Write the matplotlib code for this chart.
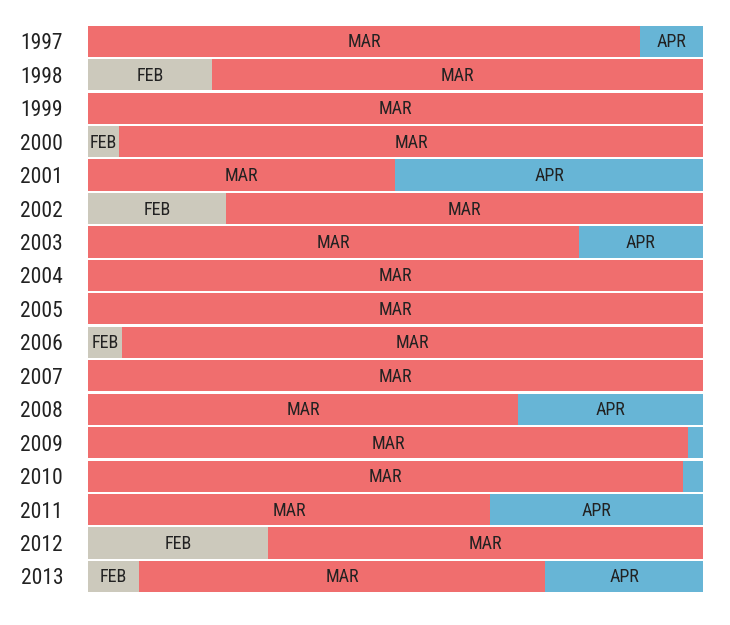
import matplotlib.pyplot as plt
import numpy as np
from matplotlib import font_manager

# === Data (share of each month, %) ===
years = [str(y) for y in range(1997, 2014)]
feb = [0, 20.2, 0, 5.0, 0, 22.4, 0, 0, 0, 5.5, 0, 0, 0, 0, 0, 29.3, 8.3]
mar = [89.8, 79.8, 100, 95.0, 49.9, 77.6, 79.8, 100, 100, 94.5, 100, 69.9, 97.6, 96.7, 65.4, 70.7, 66.0]
apr = [10.2, 0, 0, 0, 50.1, 0, 20.2, 0, 0, 0, 0, 30.1, 2.4, 3.3, 34.6, 0, 25.7]

names = ["FEB", "MAR", "APR"]
colors = ["#ccc9bc", "#f06e6e", "#67b5d6"]

# font: try a narrow one
fam = "DejaVu Sans"
for f in ["Liberation Sans Narrow", "Roboto Condensed", "Liberation Sans"]:
    try:
        font_manager.findfont(f, fallback_to_default=False)
        fam = f
        break
    except Exception:
        pass
plt.rcParams['font.family'] = fam

fig = plt.figure(figsize=(7.3, 6.25), dpi=100)
ax = fig.add_axes([88/730, 1-592/625, 615/730, (592-25.7)/625])

y = np.arange(len(years))
h = 0.93
left = np.zeros(len(years))
for vals, name, c in zip([feb, mar, apr], names, colors):
    vals = np.array(vals)
    ax.barh(y, vals, left=left, height=h, color=c, edgecolor="none")
    for i, v in enumerate(vals):
        if v >= 5:
            ax.text(left[i] + v/2, y[i] + 0.03, name, ha="center", va="center",
                    fontsize=13, color="#222222")
    left += vals

ax.set_xlim(0, 100)
ax.set_ylim(len(years) - 1 + h/2, -h/2)
ax.set_yticks(y)
ax.set_yticklabels(years, fontsize=15.5, color="#222222")
ax.tick_params(axis="y", length=0, pad=18)
ax.set_xticks([])
for s in ax.spines.values():
    s.set_visible(False)

plt.savefig("out.png", dpi=100)
plt.close()
